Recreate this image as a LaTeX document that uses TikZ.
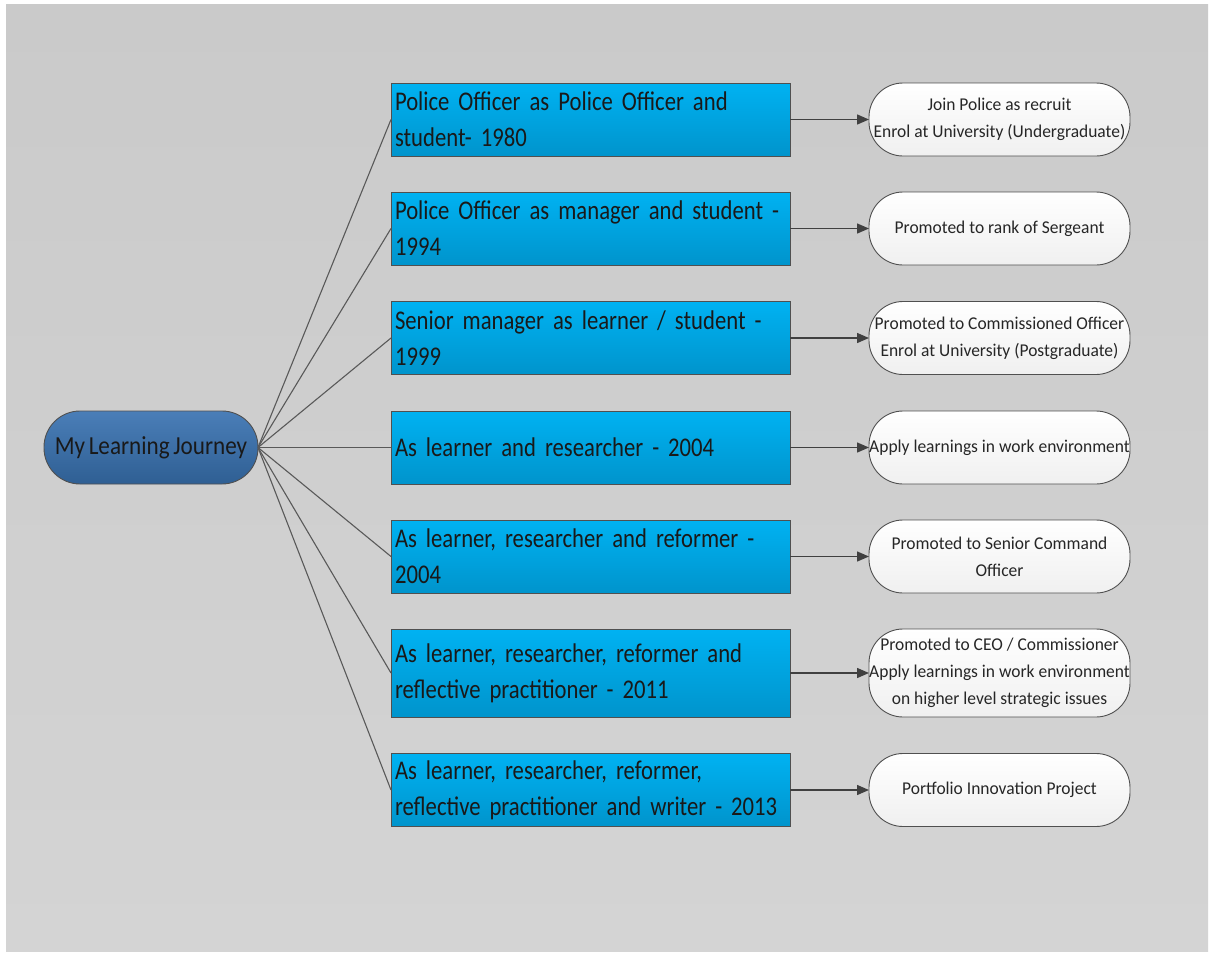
\documentclass[tikz,border=0pt]{standalone}
\usepackage{fontspec}
\setmainfont{Carlito}
% condensed faces with tight, rigid word spaces
\newfontfamily\stagefont[FakeStretch=0.84, WordSpace={0.6,0,0}]{Carlito}
\newfontfamily\hubfont[FakeStretch=0.89, WordSpace={0.7,0,0}]{Carlito}
\newfontfamily\eventfont[FakeStretch=0.97]{Carlito}
\newcommand\stagetype{\stagefont\fontsize{27}{36}\selectfont}
\newcommand\hubtype{\hubfont\fontsize{26}{30}\selectfont}
\newcommand\eventtype{\eventfont\fontsize{18}{27}\selectfont}
\usetikzlibrary{arrows.meta}
\definecolor{pagegray1}{HTML}{CACACA}
\definecolor{pagegray2}{HTML}{D4D4D4}
\definecolor{hubtop}{HTML}{4A7EB8}
\definecolor{hubbot}{HTML}{2F5F93}
\definecolor{stagetop}{HTML}{00B2F2}
\definecolor{stagebot}{HTML}{0094CC}
\definecolor{edge}{HTML}{505050}
\begin{document}
\begin{tikzpicture}[x=1pt,y=-1pt,
  every node/.style={inner sep=0pt, outer sep=0pt},
  hub/.style={draw=edge, line width=0.9pt, rounded corners=36pt,
    top color=hubtop, bottom color=hubbot,
    minimum width=214pt, minimum height=73pt,
    font=\hubtype, text=black!90},
  stage/.style={draw=edge, line width=0.9pt,
    top color=stagetop, bottom color=stagebot,
    inner xsep=4pt, text width=391pt, minimum height=73pt, align=left,
    font=\stagetype, text=black!90},
  event/.style={draw=edge, line width=0.9pt, rounded corners=34pt,
    top color=white, bottom color=black!6,
    minimum width=261pt, minimum height=73pt, align=center,
    font=\eventtype, text=black!85},
  spoke/.style={draw=black!65, line width=1.1pt},
  link/.style={draw=black!75, line width=1.4pt,
    -{Triangle[length=12pt,width=10pt]}}
]
% page background
\fill[white] (0,0) rectangle (1213,953);
\fill[top color=pagegray1, bottom color=pagegray2] (6,4) rectangle (1208,951);

% central node
\node[hub] (hub) at (151,447.5) {My Learning Journey};

% career stages
\node[stage] (s1) at (590.5,119.5) {Police Officer as Police Officer and\\student- 1980};
\node[stage] (s2) at (590.5,228.5) {Police Officer as manager and student -\\1994};
\node[stage] (s3) at (590.5,338) {Senior manager as learner / student -\\1999};
\node[stage] (s4) at (590.5,447.5) {As learner and researcher - 2004};
\node[stage] (s5) at (590.5,556.5) {As learner, researcher and reformer -\\2004};
\node[stage, minimum height=88pt] (s6) at (590.5,673) {As learner, researcher, reformer and\\reflective practitioner - 2011};
\node[stage] (s7) at (590.5,790) {As learner, researcher, reformer,\\reflective practitioner and writer - 2013};

% milestones
\node[event] (e1) at (999.5,119.5) {Join Police as recruit\\Enrol at University (Undergraduate)};
\node[event] (e2) at (999.5,228.5) {Promoted to rank of Sergeant};
\node[event] (e3) at (999.5,338) {Promoted to Commissioned Officer\\Enrol at University (Postgraduate)};
\node[event] (e4) at (999.5,447.5) {Apply learnings in work environment};
\node[event] (e5) at (999.5,556.5) {Promoted to Senior Command\\Officer};
\node[event, minimum height=88pt] (e6) at (999.5,673) {Promoted to CEO / Commissioner\\Apply learnings in work environment\\on higher level strategic issues};
\node[event] (e7) at (999.5,790) {Portfolio Innovation Project};

% connectors
\foreach \i in {1,...,7}{
  \draw[spoke] (hub.east) -- (s\i.west);
  \draw[link] (s\i.east) -- (e\i.west);
}
\end{tikzpicture}
\end{document}
